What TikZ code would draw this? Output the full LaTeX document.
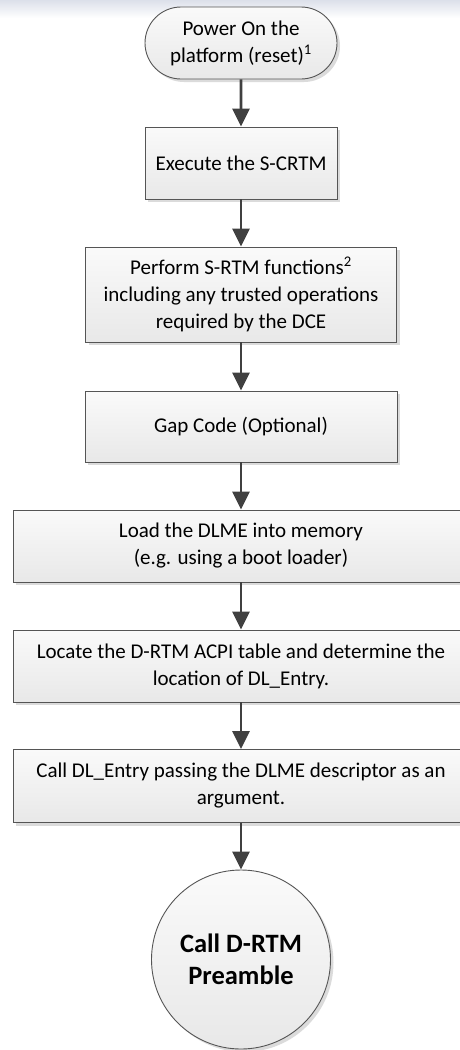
\documentclass[tikz,border=0pt]{standalone}
\usepackage{fontspec}
\setmainfont{Carlito}
\usetikzlibrary{shapes.misc,shadows,arrows.meta,positioning}

\definecolor{edge}{HTML}{555555}
\definecolor{flow}{HTML}{404040}
\definecolor{band}{HTML}{DCE0EA}

\tikzset{
  boxfill/.style={draw=edge, line width=0.9pt,
    top color=white!98!black, bottom color=white!91!black,
    drop shadow={shadow xshift=3pt, shadow yshift=-3pt, fill=black!14, opacity=1},
    align=center, font=\fontsize{21}{27}\selectfont, inner sep=0pt},
  stepbox/.style={boxfill, rectangle},
  terminal/.style={boxfill, rounded rectangle, minimum width=192pt, minimum height=72pt},
  endcircle/.style={boxfill, circle, minimum size=179pt,
    font=\fontsize{26.5}{32}\selectfont\bfseries},
  flowarrow/.style={draw=flow, line width=2.6pt,
    -{Triangle[width=17pt,length=18pt]}}
}

\begin{document}
\begin{tikzpicture}[x=1pt,y=-1pt]
  \useasboundingbox (0,0) rectangle (460,1050);
  \clip (0,0) rectangle (460,1050);

  % faint band along the top edge
  \shade[top color=band, bottom color=white] (0,0) rectangle (460,18);

  \node[terminal] (power) at (241,43) {Power On the\\platform (reset)\textsuperscript{1}};
  \node[stepbox, minimum width=192pt, minimum height=72pt] (scrtm) at (241,163)
    {Execute the S-CRTM};
  \node[stepbox, minimum width=311pt, minimum height=95pt] (srtm) at (241,294.5)
    {Perform S-RTM functions\textsuperscript{2}\\including any trusted operations\\required by the DCE};
  \node[stepbox, minimum width=312pt, minimum height=71pt] (gap) at (241,426.5)
    {Gap Code (Optional)};
  \node[stepbox, minimum width=456pt, minimum height=72pt] (dlme) at (241,546)
    {Load the DLME into memory\\(e.g. using a boot loader)};
  \node[stepbox, minimum width=456pt, minimum height=72pt] (acpi) at (241,666)
    {Locate the D-RTM ACPI table and determine the\\location of DL\_Entry.};
  \node[stepbox, minimum width=456pt, minimum height=73pt] (entry) at (241,786)
    {Call DL\_Entry passing the DLME descriptor as an\\argument.};
  \node[endcircle] (pre) at (241,959.5) {Call D-RTM\\Preamble};

  \draw[flowarrow] (power) -- (scrtm);
  \draw[flowarrow] (scrtm) -- (srtm);
  \draw[flowarrow] (srtm) -- (gap);
  \draw[flowarrow] (gap) -- (dlme);
  \draw[flowarrow] (dlme) -- (acpi);
  \draw[flowarrow] (acpi) -- (entry);
  \draw[flowarrow] (entry) -- (pre);
\end{tikzpicture}
\end{document}
